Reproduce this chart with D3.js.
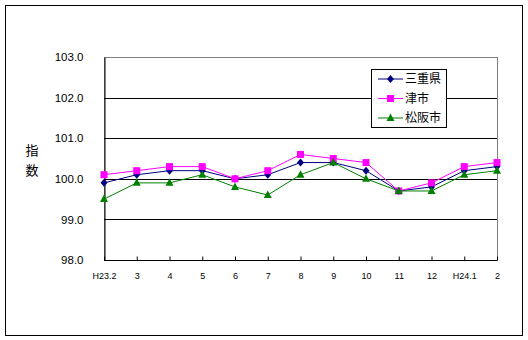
<!DOCTYPE html>
<html>
<head>
<meta charset="utf-8">
<script src="https://cdn.jsdelivr.net/npm/d3@7/dist/d3.min.js"></script>
<style>
  html, body { margin: 0; padding: 0; background: #fff; }
  svg { display: block; }
  text { font-family: "Liberation Sans", Arial, "Noto Sans CJK JP", sans-serif; }
  .cjk { font-family: "Noto Sans CJK JP", sans-serif; }
</style>
</head>
<body>
<svg id="chart" width="528" height="340"></svg>
<script>
// Months (H23.2 – H24.2)
const categories = ["H23.2", "3", "4", "5", "6", "7", "8", "9", "10", "11", "12", "H24.1", "2"];

// Index values per area
const mie      = [99.9, 100.1, 100.2, 100.2, 100.0, 100.1, 100.4, 100.4, 100.2, 99.7, 99.8, 100.2, 100.3];
const tsu      = [100.1, 100.2, 100.3, 100.3, 100.0, 100.2, 100.6, 100.5, 100.4, 99.7, 99.9, 100.3, 100.4];
const matsusaka = [99.5, 99.9, 99.9, 100.1, 99.8, 99.6, 100.1, 100.4, 100.0, 99.7, 99.7, 100.1, 100.2];

const yTicks = [98, 99, 100, 101, 102, 103];

const series = [
  { name: "三重県", values: mie, color: "#000080", marker: "diamond" },
  { name: "津市", values: tsu, color: "#FF00FF", marker: "square" },
  { name: "松阪市", values: matsusaka, color: "#008000", marker: "triangle" }
];

const svg = d3.select("#chart");

// outer frame
svg.append("rect")
  .attr("x", 5.5).attr("y", 5.5).attr("width", 517).attr("height", 330)
  .attr("fill", "#fff").attr("stroke", "#000").attr("stroke-width", 1);

const plot = { left: 104, right: 497, top: 57, bottom: 260 };

const x = d3.scalePoint().domain(categories).range([plot.left, plot.right]);
const y = d3.scaleLinear().domain([98, 103]).range([plot.bottom, plot.top]);

// plot area border (top/right grey)
svg.append("rect")
  .attr("x", plot.left + 0.5).attr("y", plot.top + 0.5)
  .attr("width", plot.right - plot.left).attr("height", plot.bottom - plot.top)
  .attr("fill", "#fff").attr("stroke", "#808080").attr("stroke-width", 1);

// horizontal gridlines
svg.append("g")
  .selectAll("line")
  .data(yTicks.filter(v => v > 98 && v < 103))
  .join("line")
  .attr("x1", plot.left).attr("x2", plot.right)
  .attr("y1", d => Math.round(y(d)) + 0.5).attr("y2", d => Math.round(y(d)) + 0.5)
  .attr("stroke", "#000").attr("stroke-width", 1);

// y axis
const yAxis = svg.append("g")
  .attr("transform", `translate(${plot.left + 0.5},0)`)
  .call(d3.axisLeft(y).tickValues(yTicks).tickFormat(d3.format(".1f")).tickSize(0).tickPadding(21));
yAxis.select(".domain").attr("stroke", "#000");
yAxis.selectAll("text").attr("font-size", 11.5).attr("fill", "#000");

// x axis
const xAxis = svg.append("g")
  .attr("transform", `translate(0,${plot.bottom + 0.5})`)
  .call(d3.axisBottom(x).tickSize(-4).tickPadding(12));
xAxis.select(".domain").attr("stroke", "#000").attr("d", `M${plot.left},0H${plot.right}`);
xAxis.selectAll(".tick line").attr("stroke", "#000");
xAxis.selectAll("text").attr("font-size", 9).attr("fill", "#000");

// y axis title (vertical stacked)
const yTitle = svg.append("text").attr("class", "cjk")
  .attr("x", 32).attr("font-size", 13).attr("fill", "#000").attr("text-anchor", "middle");
["指", "数"].forEach((ch, i) => {
  yTitle.append("tspan").attr("x", 32).attr("y", 155 + i * 20).text(ch);
});

// markers
function drawMarker(g, type, color, cx, cy) {
  if (type === "diamond") {
    g.append("path")
      .attr("d", `M${cx},${cy - 4}L${cx + 3.5},${cy}L${cx},${cy + 4}L${cx - 3.5},${cy}Z`)
      .attr("fill", color);
  } else if (type === "square") {
    g.append("rect").attr("x", cx - 3.5).attr("y", cy - 3.5).attr("width", 7).attr("height", 7)
      .attr("fill", color);
  } else {
    g.append("path")
      .attr("d", `M${cx},${cy - 4.5}L${cx + 4},${cy + 3}L${cx - 4},${cy + 3}Z`)
      .attr("fill", color);
  }
}

const line = d3.line().x((d, i) => x(categories[i])).y(d => y(d));

series.forEach(s => {
  const g = svg.append("g");
  g.append("path").datum(s.values)
    .attr("d", line).attr("fill", "none")
    .attr("stroke", s.color).attr("stroke-width", 1);
  s.values.forEach((v, i) => drawMarker(g, s.marker, s.color, x(categories[i]), y(v)));
});

// legend
const legend = svg.append("g");
legend.append("rect")
  .attr("x", 371.5).attr("y", 69.5).attr("width", 75).attr("height", 58)
  .attr("fill", "#fff").attr("stroke", "#000").attr("stroke-width", 1);
series.forEach((s, i) => {
  const cy = 79 + i * 19.5;
  legend.append("line")
    .attr("x1", 378).attr("x2", 403).attr("y1", cy).attr("y2", cy)
    .attr("stroke", s.color).attr("stroke-width", 1);
  drawMarker(legend, s.marker, s.color, 390.5, cy);
  legend.append("text").attr("class", "cjk")
    .attr("x", 405).attr("y", cy).attr("dy", "0.36em")
    .attr("font-size", 12).attr("fill", "#000").text(s.name);
});
</script>
</body>
</html>
